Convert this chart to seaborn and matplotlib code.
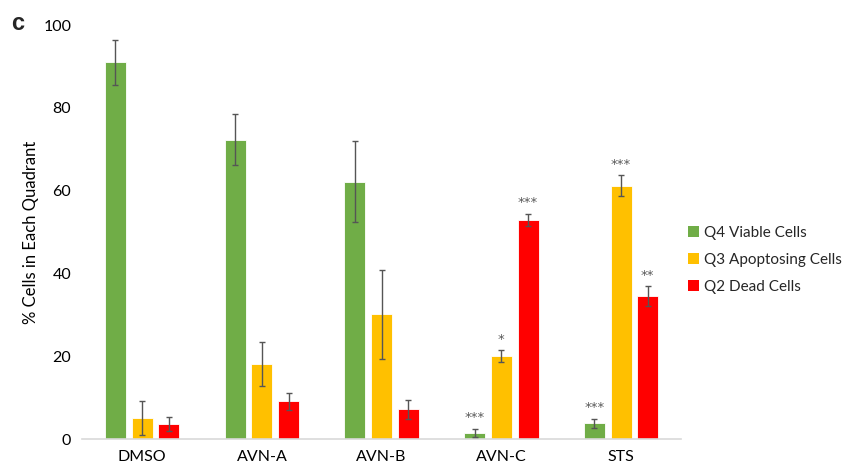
import numpy as np
import pandas as pd
import matplotlib
matplotlib.use("Agg")
import matplotlib.pyplot as plt
import seaborn as sns

treatments = ["DMSO", "AVN-A", "AVN-B", "AVN-C", "STS"]
quadrants = ["Q4 Viable Cells", "Q3 Apoptosing Cells", "Q2 Dead Cells"]

viable = [91.0, 72.3, 62.2, 1.6, 3.9]
apoptosing = [5.1, 18.2, 30.2, 20.1, 61.2]
dead = [3.6, 9.2, 7.3, 53.0, 34.6]

viable_err = [5.4, 6.2, 9.7, 1.0, 1.1]
apoptosing_err = [4.1, 5.4, 10.7, 1.4, 2.5]
dead_err = [1.7, 2.1, 2.3, 1.5, 2.4]

viable_sig = ["", "", "", "***", "***"]
apoptosing_sig = ["", "", "", "*", "***"]
dead_sig = ["", "", "", "***", "**"]

colors = ["#70AD47", "#FFC000", "#FF0000"]

values = [viable, apoptosing, dead]
errors = [viable_err, apoptosing_err, dead_err]
sigs = [viable_sig, apoptosing_sig, dead_sig]

df = pd.DataFrame({
    "Treatment": np.repeat([treatments], 3, axis=0).ravel(),
    "Quadrant": np.repeat(quadrants, len(treatments)),
    "Value": np.concatenate(values),
})

sns.set_style("white")
plt.rcParams["font.family"] = ["Lato", "DejaVu Sans"]

fig = plt.figure(figsize=(8.55, 4.73), dpi=100)
ax = fig.add_axes([0.0963, 0.0712, 0.7001, 0.8759])

sns.barplot(data=df, x="Treatment", y="Value", hue="Quadrant",
            order=treatments, hue_order=quadrants, palette=colors,
            saturation=1, errorbar=None, width=0.669, gap=0.215,
            edgecolor="white", linewidth=0.6, ax=ax)

for container, vals, errs, marks in zip(ax.containers, values, errors, sigs):
    xs = [p.get_x() + p.get_width() / 2 for p in container.patches]
    ax.errorbar(xs, vals, yerr=errs, fmt="none", ecolor="#555555",
                elinewidth=1.0, capsize=2.5, capthick=1.0, zorder=3)
    for x, v, e, m in zip(xs, vals, errs, marks):
        if m:
            ax.text(x, v + e + 1.0, m, ha="center", va="bottom",
                    fontsize=9.5, color="#595959", family="DejaVu Sans")

ax.set_xlim(-0.5, len(treatments) - 0.5)
ax.set_ylim(0, 100)
ax.set_yticks(range(0, 101, 20))
ax.set_xlabel("")
ax.set_ylabel("% Cells in Each Quadrant", fontsize=12, color="#000000", labelpad=3)
ax.tick_params(axis="both", labelsize=11.5, colors="#000000", length=0)
ax.tick_params(axis="y", pad=8)
ax.tick_params(axis="x", pad=8)

for side in ["top", "right", "left"]:
    ax.spines[side].set_visible(False)
ax.spines["bottom"].set_color("#D9D9D9")
ax.spines["bottom"].set_linewidth(1.2)

leg = ax.legend(loc="center left", bbox_to_anchor=(1.012, 0.433), frameon=False,
                borderpad=0, borderaxespad=0,
                fontsize=11, handlelength=0.7, handleheight=0.7,
                handletextpad=0.35, labelspacing=0.85)
for h in leg.legend_handles:
    h.set_edgecolor("none")

fig.text(0.013, 0.975, "c", fontsize=17, fontweight="bold", va="top", ha="left",
         family="Liberation Sans")

fig.savefig("out.png", dpi=100)
